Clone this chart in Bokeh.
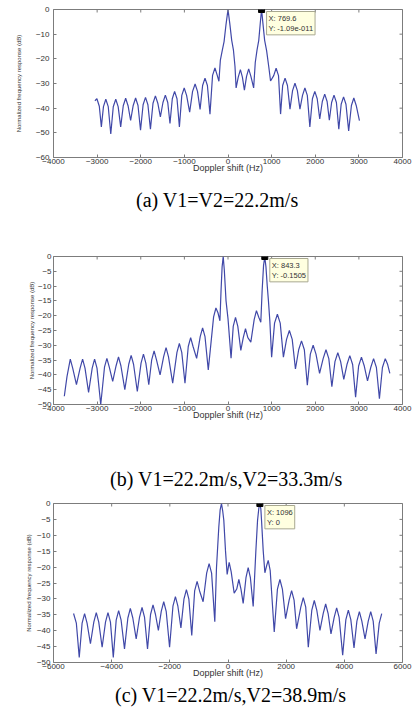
import math
from bokeh.plotting import figure
from bokeh.models import FixedTicker, Label, Div, Range1d
from bokeh.layouts import column
from bokeh.embed import file_html
from bokeh.resources import INLINE

# ---------------- data ----------------
# (a) V1=V2=22.2 m/s
A_HZ = [
    -3051, -3005, -2950, -2903, -2855, -2801, -2745, -2687, -2630, -2573, -2518, -2460,
    -2401, -2346, -2291, -2232, -2173, -2118, -2063, -2005, -1946, -1891, -1836, -1778,
    -1719, -1664, -1609, -1550, -1491, -1436, -1381, -1330, -1277, -1224, -1169, -1114,
    -1059, -1004, -949, -879, -812, -754, -699, -640, -582, -527, -472, -413,
    -354, -299, -250, -208,
    -175, -130, -90, -45, 0, 40, 85, 125, 160, 186,
    235, 284, 330, 376, 425, 474, 525, 588,
    625, 665, 705, 740, 769.6, 800, 840, 885, 936, 975,
    1048, 1103, 1158, 1205, 1253, 1308, 1363, 1421, 1480, 1535, 1590, 1649,
    1708, 1763, 1818, 1876, 1935, 1990, 2045, 2103, 2162, 2217, 2272, 2323,
    2375, 2430, 2485, 2540, 2594, 2649, 2704, 2766, 2829, 2884, 2939, 3013,
]
A_DB = [
    -37.0, -36.2, -39.2, -47.6, -39.4, -36.4, -39.4, -50.5, -39.4, -36.4, -39.4, -47.6,
    -39.0, -36.0, -39.0, -45.0, -38.9, -35.9, -38.9, -48.9, -38.6, -35.6, -38.6, -48.5,
    -38.0, -35.0, -38.0, -43.5, -37.7, -34.7, -37.7, -46.2, -36.2, -33.2, -36.2, -47.6,
    -34.8, -31.8, -34.8, -41.6, -33.2, -30.2, -33.2, -40.5, -30.8, -27.8, -30.8, -42.4,
    -26.7, -23.7, -26.5, -29.1,
    -20.5, -16.5, -13.0, -6.0, 0.0, -5.5, -12.5, -16.5, -23.0, -31.8,
    -27.4, -24.4, -27.4, -32.7, -27.1, -24.1, -27.1, -31.8,
    -21.5, -16.5, -12.5, -5.5, 0.0, -5.5, -12.5, -16.7, -23.4, -29.0,
    -26.8, -23.8, -26.8, -42.4, -30.8, -27.8, -30.8, -40.4, -32.9, -29.9, -32.9, -40.4,
    -34.8, -31.8, -34.8, -47.6, -36.2, -33.2, -36.2, -44.4, -37.3, -34.3, -37.3, -44.9,
    -37.7, -34.7, -37.7, -48.5, -38.4, -35.4, -38.4, -49.2, -38.9, -35.9, -38.9, -45.1,
]
A_XTICKS = [-4000, -3000, -2000, -1000, 0, 1000, 2000, 3000, 4000]
A_YTICKS = [-60, -50, -40, -30, -20, -10, 0]
A_TIP_X = [769.6]
A_TIP_Y = [-1.09e-11]

# (b) V1=22.2 m/s, V2=33.3 m/s
B_HZ = [
    -3752, -3691, -3615, -3560, -3474, -3390, -3333, -3278, -3196, -3113, -3058, -3003,
    -2917, -2831, -2776, -2721, -2643, -2565, -2510, -2455, -2365, -2275, -2220, -2165,
    -2079, -1993, -1938, -1883, -1816, -1749, -1694, -1639, -1557, -1475, -1420, -1365,
    -1268, -1170, -1115, -1060, -986, -911, -856, -801, -719, -637, -582, -527,
    -452, -330, -277, -230, -185,
    -160, -135, -110, -85, -45, 0, 70,
    120, 172, 225, 294, 350, 401, 455, 523, 600, 652, 705, 752,
    782, 815, 843.3, 870, 900, 927, 960, 1000,
    1067, 1132, 1197, 1270, 1342, 1407, 1472, 1546, 1620, 1685, 1750, 1818,
    1887, 1952, 2017, 2099, 2181, 2246, 2311, 2381, 2452, 2517, 2582, 2654,
    2727, 2792, 2857, 2925, 2994, 3059, 3124, 3198, 3272, 3337, 3402, 3471,
    3540, 3605, 3660, 3710,
]
B_DB = [
    -47.2, -40.6, -34.7, -37.7, -43.3, -37.7, -34.7, -37.7, -45.9, -37.7, -34.7, -37.7,
    -50.0, -37.4, -34.4, -37.4, -42.2, -36.9, -33.9, -36.9, -45.0, -36.4, -33.4, -36.4,
    -45.6, -36.0, -33.0, -36.0, -43.3, -34.9, -31.9, -34.9, -40.0, -33.8, -30.8, -33.8,
    -42.8, -32.4, -29.4, -32.4, -42.8, -30.4, -27.4, -30.4, -34.4, -27.1, -24.1, -27.1,
    -38.3, -20.4, -17.4, -19.0, -21.7,
    -11.7, -3.5, 0.0, -4.5, -15.0, -21.0, -34.4,
    -23.6, -20.6, -23.6, -31.7, -27.4, -24.4, -27.4, -28.9, -21.3, -18.3, -20.5, -22.2,
    -11.7, -3.0, -0.1505, -3.5, -10.0, -15.0, -22.0, -34.0,
    -22.5, -19.5, -22.5, -34.0, -28.0, -25.0, -28.0, -38.0, -31.5, -28.5, -31.5, -43.5,
    -33.0, -30.0, -33.0, -39.5, -34.5, -31.5, -34.5, -44.0, -35.5, -32.5, -35.5, -41.5,
    -36.5, -33.5, -36.5, -47.5, -37.0, -34.0, -37.0, -42.0, -37.5, -34.5, -37.5, -48.0,
    -37.5, -34.5, -36.5, -39.5,
]
B_XTICKS = [-4000, -3000, -2000, -1000, 0, 1000, 2000, 3000, 4000]
B_YTICKS = [-50, -45, -40, -35, -30, -25, -20, -15, -10, -5, 0]
B_TIP_X = [843.3]
B_TIP_Y = [-0.1505]

# (c) V1=22.2 m/s, V2=38.9 m/s
C_HZ = [
    -5310, -5215, -5115, -5016, -4931, -4846, -4730, -4614, -4529, -4444, -4328, -4212,
    -4127, -4042, -3944, -3845, -3760, -3675, -3559, -3443, -3358, -3273, -3157, -3041,
    -2956, -2871, -2767, -2663, -2578, -2493, -2394, -2295, -2210, -2125, -2009, -1893,
    -1808, -1723, -1619, -1515, -1430, -1345, -1246, -1147, -1062, -977, -856, -734,
    -649, -564, -454,
    -396, -316, -270, -224, -180, -144, -86, -29,
    40, 110, 212, 300, 373, 446, 522, 620, 694, 768, 866,
    958, 1016, 1060, 1096, 1130, 1153, 1211, 1268, 1330, 1383, 1450,
    1590, 1700, 1785, 1870, 1980, 2102, 2187, 2272, 2359, 2503, 2588, 2673,
    2761, 2882, 2967, 3052, 3162, 3273, 3358, 3443, 3541, 3651, 3736, 3821,
    3943, 4053, 4138, 4223, 4333, 4432, 4517, 4602, 4712, 4822, 4907, 4992,
    5091, 5200, 5286,
]
C_DB = [
    -34.6, -37.6, -48.4, -37.6, -34.6, -37.6, -44.1, -37.3, -34.3, -37.3, -45.2, -37.3,
    -34.3, -37.3, -48.4, -36.7, -33.7, -36.7, -45.7, -36.0, -33.0, -36.0, -42.6, -35.7,
    -32.7, -35.7, -45.7, -34.9, -31.9, -34.9, -39.9, -33.9, -30.9, -33.9, -45.2, -32.3,
    -29.3, -32.3, -39.1, -30.1, -27.1, -30.1, -41.5, -27.5, -24.5, -27.5, -30.9, -21.9,
    -18.9, -21.9, -37.2,
    -20.2, -7.4, -2.0, 0.0, -2.5, -5.3, -14.9, -22.3,
    -18.5, -21.5, -28.2, -26.9, -23.9, -26.9, -31.4, -23.2, -20.2, -23.2, -32.4,
    -14.9, -5.3, -1.5, 0.0, -1.8, -5.3, -14.9, -21.8, -19.5, -17.9, -21.0,
    -40.4, -26.9, -23.9, -26.9, -36.2, -30.4, -27.4, -30.4, -39.4, -32.6, -29.6, -32.6,
    -45.2, -33.5, -30.5, -33.5, -39.9, -34.6, -31.6, -34.6, -41.0, -35.8, -32.8, -35.8,
    -47.7, -36.5, -33.5, -36.5, -45.4, -37.0, -34.0, -37.0, -42.6, -37.0, -34.0, -37.0,
    -47.3, -37.6, -34.6,
]
C_XTICKS = [-6000, -4000, -2000, 0, 2000, 4000, 6000]
C_YTICKS = [-50, -45, -40, -35, -30, -25, -20, -15, -10, -5, 0]
C_TIP_X = [1096]
C_TIP_Y = [0]

CAPTIONS = ["(a) V1=V2=22.2m/s", "(b) V1=22.2m/s,V2=33.3m/s", "(c) V1=22.2m/s,V2=38.9m/s"]
TIP_TEXTS = ["X: 769.6\nY: -1.09e-011", "X: 843.3\nY: -0.1505", "X: 1096\nY: 0"]

# ---------------- styling ----------------
LINE = "#4048a8"
FRAME = "#7c7c7c"
SANS = "Liberation Sans"
TXT = "#333333"


def style_axis(ax, ticks, standoff=1):
    ax.ticker = FixedTicker(ticks=ticks)
    ax.major_tick_in = 3
    ax.major_tick_out = 0
    ax.minor_tick_line_color = None
    ax.axis_line_color = None
    ax.major_tick_line_color = FRAME
    ax.major_label_text_font = SANS
    ax.major_label_text_color = TXT
    ax.major_label_standoff = standoff
    ax.major_label_text_font_size = "8px"


def panel(xs, ys, xticks, yticks, tip_x, tip_y, tip_text, height, top, bottom, left, right,
          ytick_standoff, ylabel_standoff):
    p = figure(width=413, height=height, output_backend="svg", toolbar_location=None,
               x_range=Range1d(xticks[0], xticks[-1]), y_range=Range1d(yticks[0], yticks[-1]),
               min_border_top=top, min_border_bottom=bottom,
               min_border_left=left, min_border_right=right)
    p.background_fill_color = "white"
    p.border_fill_color = "white"
    p.outline_line_color = FRAME
    p.outline_line_width = 1
    p.xgrid.visible = False
    p.ygrid.visible = False

    p.line(xs, ys, line_color=LINE, line_width=1.2)

    style_axis(p.xaxis[0], xticks, standoff=1)
    style_axis(p.yaxis[0], yticks, standoff=ytick_standoff)
    p.xaxis.axis_label = "Doppler shift (Hz)"
    p.xaxis.axis_label_text_font = SANS
    p.xaxis.axis_label_text_font_size = "9px"
    p.xaxis.axis_label_text_font_style = "normal"
    p.xaxis.axis_label_text_color = TXT
    p.xaxis.axis_label_standoff = -4
    p.yaxis.axis_label = "Normalized frequency response (dB)"
    p.yaxis.axis_label_text_font = SANS
    p.yaxis.axis_label_text_font_size = "6px"
    p.yaxis.axis_label_text_font_style = "normal"
    p.yaxis.axis_label_text_color = TXT
    p.yaxis.axis_label_standoff = ylabel_standoff

    # inward ticks on the top and right edges of the box (half of each dash is clipped)
    p.scatter(x=xticks, y=[yticks[-1]] * len(xticks), marker="dash", angle=math.pi / 2,
              size=6, line_color=FRAME, line_width=1)
    p.scatter(x=[xticks[-1]] * len(yticks), y=yticks, marker="dash",
              size=6, line_color=FRAME, line_width=1)

    # data cursor
    p.scatter(x=tip_x, y=[0], marker="square", size=6, color="black")
    p.add_layout(Label(x=tip_x[0], y=0, x_offset=5, y_offset=-2, text=tip_text,
                       text_font=SANS, text_font_size="7.5px", text_color=TXT,
                       text_align="left", text_baseline="top", text_line_height=1.15,
                       background_fill_color="#ffffe0", border_line_color="#a8a890",
                       padding=2))
    return p


def caption(text, height, top, left):
    html = ('<div style="position:relative;top:%dpx;left:%dpx;white-space:nowrap;'
            'font-family:\'Liberation Serif\',serif;font-size:20px;line-height:24px;'
            'color:#000;">%s</div>' % (top, left, text))
    return Div(text=html, width=413, height=height, margin=0)


pa = panel(A_HZ, A_DB, A_XTICKS, A_YTICKS, A_TIP_X, A_TIP_Y, TIP_TEXTS[0],
           183, 9, 26, 51, 10, 4, 11)
pb = panel(B_HZ, B_DB, B_XTICKS, B_YTICKS, B_TIP_X, B_TIP_Y, TIP_TEXTS[1],
           192, 16, 28, 52, 11, 2, 0)
pc = panel(C_HZ, C_DB, C_XTICKS, C_YTICKS, C_TIP_X, C_TIP_Y, TIP_TEXTS[2],
           188, 8, 21, 53, 11, 3, 2)

ca = caption(CAPTIONS[0], 57, 5, 136)
cb = caption(CAPTIONS[1], 63, 35, 110)
cc = caption(CAPTIONS[2], 34, 0, 115)

layout = column(pa, ca, pb, cb, pc, cc, spacing=0)

open("out.html", "w").write(file_html(layout, INLINE))
